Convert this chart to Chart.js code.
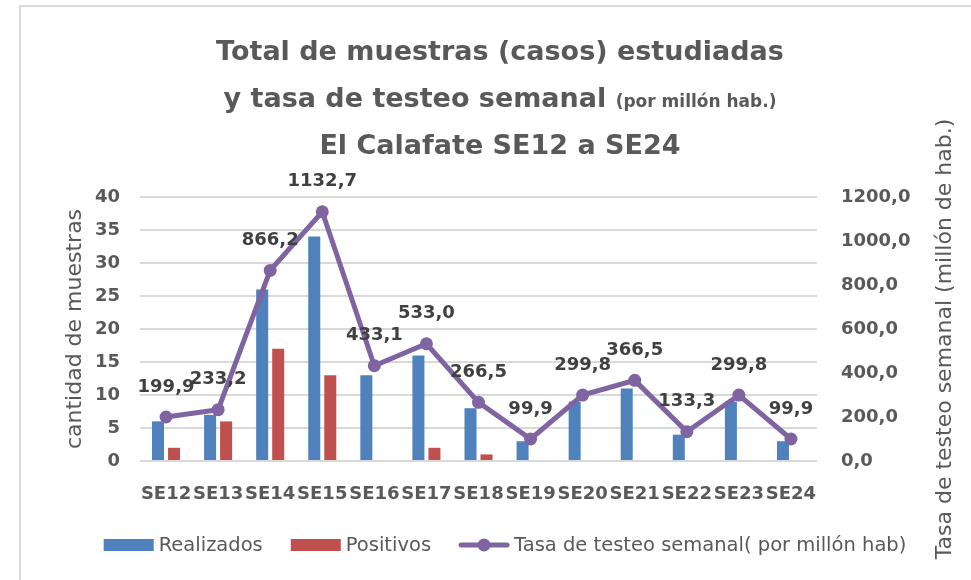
<!DOCTYPE html>
<html><head><meta charset="utf-8">
<script src="https://cdn.jsdelivr.net/npm/chart.js@4.4.0/dist/chart.umd.min.js"></script>
<style>html,body{margin:0;padding:0;background:#fff}#wrap{width:971px;height:580px;position:relative}</style>
</head><body><div id="wrap"><canvas id="c" width="971" height="580"></canvas></div>
<script>
const categories = ['SE12','SE13','SE14','SE15','SE16','SE17','SE18','SE19','SE20','SE21','SE22','SE23','SE24'];
const realizados = [6,7,26,34,13,16,8,3,9,11,4,9,3];
const positivos  = [2,6,17,13,0,2,1,0,0,0,0,0,0];
const tasa       = [199.9,233.2,866.2,1132.7,433.1,533.0,266.5,99.9,299.8,366.5,133.3,299.8,99.9];
const seriesNames = ['Realizados','Positivos','Tasa de testeo semanal( por millón hab)'];
const titleLine1 = 'Total de muestras (casos) estudiadas';
const titleLine2a = 'y tasa de testeo semanal';
const titleLine2b = '(por millón hab.)';
const titleLine3 = 'El Calafate SE12 a SE24';
const leftAxisTitle = 'cantidad de muestras';
const rightAxisTitle = 'Tasa de testeo semanal (millón de hab.)';

const FONT = 'DejaVu Sans';
const GRAY = '#595959';
const BLUE = '#4F81BD', RED = '#C0504D', PURPLE = '#8064A2';
const fmt = v => v.toFixed(1).replace('.', ',');

const decorPlugin = {
  id: 'decor',
  beforeDraw(chart) {
    const ctx = chart.ctx;
    ctx.save();
    ctx.fillStyle = '#fff';
    ctx.fillRect(0, 0, chart.width, chart.height);
    // frame
    ctx.strokeStyle = '#D9D9D9';
    ctx.lineWidth = 2;
    ctx.beginPath();
    ctx.moveTo(20, 580); ctx.lineTo(20, 6); ctx.lineTo(971, 6);
    ctx.stroke();
    // title
    const cx = 500;
    ctx.fillStyle = GRAY;
    ctx.textBaseline = 'alphabetic';
    ctx.textAlign = 'center';
    ctx.font = 'bold 27px "' + FONT + '"';
    ctx.fillText(titleLine1, cx, 60);
    ctx.fillText(titleLine3, cx, 154);
    const wA = ctx.measureText(titleLine2a + ' ').width;
    ctx.font = 'bold 17px "' + FONT + '"';
    const wB = ctx.measureText(titleLine2b).width;
    const x0 = cx - (wA + wB) / 2;
    ctx.textAlign = 'left';
    ctx.font = 'bold 27px "' + FONT + '"';
    ctx.fillText(titleLine2a, x0, 107);
    ctx.font = 'bold 17px "' + FONT + '"';
    ctx.fillText(titleLine2b, x0 + wA, 107);
    // right axis title (reads bottom to top)
    ctx.save();
    ctx.translate(945, 339);
    ctx.rotate(-Math.PI / 2);
    ctx.textAlign = 'center';
    ctx.textBaseline = 'middle';
    ctx.font = '22px "' + FONT + '"';
    ctx.fillText(rightAxisTitle, 0, 0);
    ctx.restore();
    ctx.restore();
  },
  afterDatasetsDraw(chart) {
    const ctx = chart.ctx;
    const meta = chart.getDatasetMeta(2);
    ctx.save();
    ctx.font = 'bold 18px "' + FONT + '"';
    ctx.fillStyle = '#404040';
    ctx.textAlign = 'center';
    ctx.textBaseline = 'middle';
    meta.data.forEach((pt, i) => {
      ctx.fillText(fmt(chart.data.datasets[2].data[i]), pt.x, pt.y - 30);
    });
    ctx.restore();
  },
  afterDraw(chart) {
    // legend
    const ctx = chart.ctx;
    ctx.save();
    ctx.font = '19.5px "' + FONT + '"';
    ctx.textBaseline = 'middle';
    ctx.textAlign = 'left';
    const ds = chart.data.datasets;
    const symW = 50, gap = 5, itemGap = 28;
    const widths = ds.map(d => symW + gap + ctx.measureText(d.label).width);
    const total = widths.reduce((a, b) => a + b, 0) + itemGap * (ds.length - 1);
    let x = 505 - total / 2;
    const y = 545;
    ds.forEach((d, i) => {
      if (d.type === 'line') {
        ctx.strokeStyle = d.borderColor;
        ctx.lineWidth = 5;
        ctx.lineCap = 'round';
        ctx.beginPath(); ctx.moveTo(x + 2, y); ctx.lineTo(x + symW - 2, y); ctx.stroke();
        ctx.fillStyle = d.borderColor;
        ctx.beginPath(); ctx.arc(x + symW / 2, y, 6.5, 0, Math.PI * 2); ctx.fill();
      } else {
        ctx.fillStyle = d.backgroundColor;
        ctx.fillRect(x, y - 6, symW, 12);
      }
      ctx.fillStyle = GRAY;
      ctx.fillText(d.label, x + symW + gap, y + 1);
      x += widths[i] + itemGap;
    });
    ctx.restore();
  }
};

Chart.defaults.font.family = FONT;
new Chart(document.getElementById('c'), {
  data: {
    labels: categories,
    datasets: [
      { type: 'bar', label: seriesNames[0], data: realizados, backgroundColor: BLUE, yAxisID: 'y', order: 1, barPercentage: 0.75, categoryPercentage: 0.615 },
      { type: 'bar', label: seriesNames[1], data: positivos, backgroundColor: RED, yAxisID: 'y', order: 1, barPercentage: 0.75, categoryPercentage: 0.615 },
      { type: 'line', label: seriesNames[2], data: tasa, yAxisID: 'y1', order: 0, borderColor: PURPLE, backgroundColor: PURPLE,
        borderWidth: 5, pointRadius: 6.5, pointBackgroundColor: PURPLE, pointBorderColor: PURPLE, pointBorderWidth: 0, tension: 0 }
    ]
  },
  options: {
    responsive: false,
    animation: false,
    devicePixelRatio: 1,
    layout: { padding: { left: 59, right: 11, top: 197, bottom: 0 } },
    plugins: { legend: { display: false }, title: { display: false }, tooltip: { enabled: false } },
    scales: {
      x: {
        grid: { display: false }, border: { display: false },
        ticks: { color: GRAY, font: { size: 18, weight: 'bold' }, padding: 15, maxRotation: 0, autoSkip: false },
        afterFit(s) { s.height = 119; }
      },
      y: {
        position: 'left', min: 0, max: 40,
        ticks: { stepSize: 5, color: GRAY, font: { size: 18, weight: 'bold' }, padding: 20 },
        grid: { color: '#D9D9D9', lineWidth: 2, drawTicks: false },
        border: { display: false },
        title: { display: true, text: leftAxisTitle, color: GRAY, font: { size: 22 }, padding: { top: 3, bottom: 0 } },
        afterFit(s) { s.width = 81; }
      },
      y1: {
        position: 'right', min: 0, max: 1200,
        ticks: { stepSize: 200, color: GRAY, font: { size: 18, weight: 'bold' }, padding: 24, callback: v => fmt(v) },
        grid: { drawOnChartArea: false, drawTicks: false },
        border: { display: false },
        afterFit(s) { s.width = 143; }
      }
    }
  },
  plugins: [decorPlugin]
});
</script>
</body></html>
